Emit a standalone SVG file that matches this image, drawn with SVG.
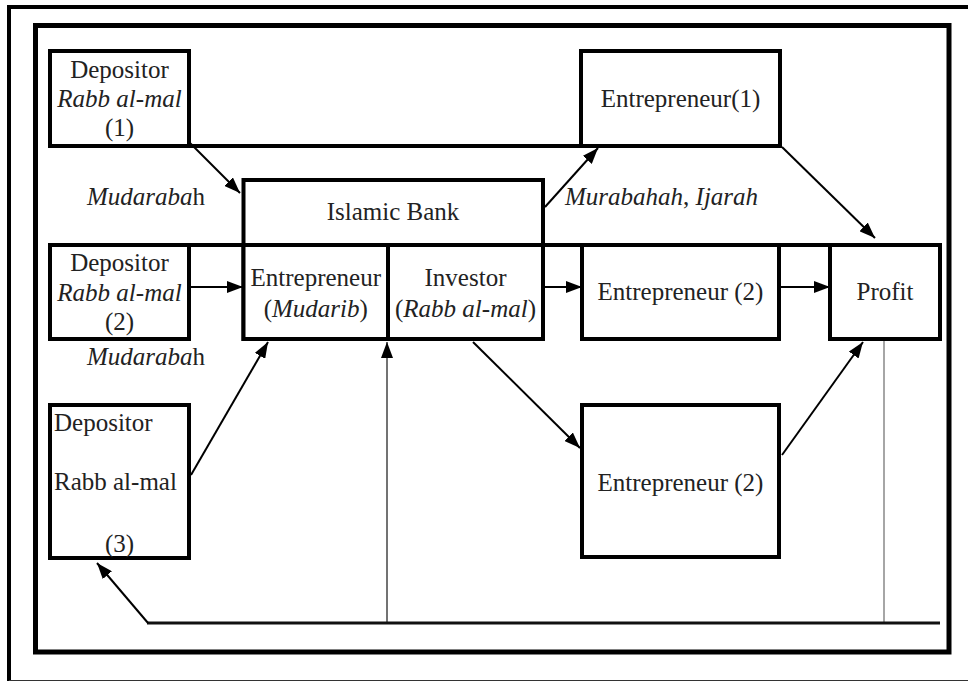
<svg xmlns="http://www.w3.org/2000/svg" width="968" height="681" viewBox="0 0 968 681">
<style>
.box{fill:#fff;stroke:#000;stroke-width:4}
.frame{fill:none;stroke:#000}
.con{fill:none;stroke:#000;stroke-width:2}
.thin{fill:none;stroke:#444;stroke-width:1.5}
.gray{fill:none;stroke:#888;stroke-width:1.5}
.heavy{fill:none;stroke:#000;stroke-width:4}
</style>
<defs>
<marker id="ah" viewBox="0 0 16 12" refX="16" refY="6" markerWidth="16" markerHeight="12" markerUnits="userSpaceOnUse" orient="auto">
<path d="M0,0 L16,6 L0,12 z" fill="#000"/>
</marker>
</defs>
<rect width="968" height="681" fill="#fff"/>
<g id="frames">
<path class="frame" d="M9,681 V7 H968" stroke-width="4"/>
<line x1="9" y1="680.5" x2="968" y2="680.5" stroke="#333" stroke-width="1"/>
<rect class="frame" x="35.5" y="25.5" width="913.5" height="626.5" stroke-width="5"/>
</g>
<g id="connectors">
<line class="heavy" x1="189" y1="146" x2="581" y2="146"/>
<line class="heavy" x1="189" y1="245" x2="243.5" y2="245"/>
<line class="heavy" x1="543" y1="245" x2="582" y2="245"/>
<line class="heavy" x1="779" y1="245" x2="830" y2="245"/>
<line class="con" x1="167" y1="120" x2="240" y2="193" marker-end="url(#ah)"/>
<line class="con" x1="545" y1="207" x2="598" y2="148" marker-end="url(#ah)"/>
<line class="con" x1="782" y1="147" x2="875" y2="238" marker-end="url(#ah)"/>
<line class="con" x1="191" y1="287" x2="243" y2="287" marker-end="url(#ah)"/>
<line class="con" x1="545" y1="287" x2="582" y2="287" marker-end="url(#ah)"/>
<line class="con" x1="781" y1="287" x2="830" y2="287" marker-end="url(#ah)"/>
<line class="con" x1="191" y1="475" x2="268" y2="342" marker-end="url(#ah)"/>
<line class="thin" x1="387" y1="623" x2="387" y2="342" marker-end="url(#ah)"/>
<line class="con" x1="473" y1="342" x2="580" y2="448" marker-end="url(#ah)"/>
<line class="con" x1="782" y1="455" x2="863" y2="342" marker-end="url(#ah)"/>
<line class="gray" x1="884" y1="341" x2="884" y2="623"/>
<line fill="none" stroke="#111" stroke-width="3" x1="147" y1="623" x2="940" y2="623"/>
<line class="con" x1="148" y1="623" x2="97" y2="563" marker-end="url(#ah)"/>
</g>
<g id="depositor1">
<rect class="box" x="50" y="51" width="139" height="95"/>
<text font-family="Liberation Serif" font-size="25" fill="#222" text-anchor="middle" x="119.5" y="78">Depositor</text>
<text font-family="Liberation Serif" font-size="25" fill="#222" text-anchor="middle" font-style="italic" x="119.5" y="107">Rabb al-mal</text>
<text font-family="Liberation Serif" font-size="25" fill="#222" text-anchor="middle" x="119.5" y="136">(1)</text>
</g>
<g id="entrepreneur1">
<rect class="box" x="581" y="51" width="199" height="95"/>
<text font-family="Liberation Serif" font-size="25" fill="#222" text-anchor="middle" x="680.5" y="107">Entrepreneur(1)</text>
</g>
<g id="islamic-bank">
<rect class="box" x="243.5" y="180" width="299.5" height="159"/>
<text font-family="Liberation Serif" font-size="25" fill="#222" text-anchor="middle" x="393" y="220">Islamic Bank</text>
</g>
<g id="bank-entrepreneur">
<rect class="box" x="243.5" y="245" width="144.5" height="94"/>
<text font-family="Liberation Serif" font-size="25" fill="#222" text-anchor="middle" x="315.75" y="286">Entrepreneur</text>
<text font-family="Liberation Serif" font-size="25" fill="#222" text-anchor="middle" x="315.75" y="317">(<tspan font-style="italic">Mudarib</tspan>)</text>
</g>
<g id="bank-investor">
<rect class="box" x="388" y="245" width="155" height="94"/>
<text font-family="Liberation Serif" font-size="25" fill="#222" text-anchor="middle" x="465.5" y="286">Investor</text>
<text font-family="Liberation Serif" font-size="25" fill="#222" text-anchor="middle" x="465.5" y="317">(<tspan font-style="italic">Rabb al-mal</tspan>)</text>
</g>
<g id="depositor2">
<rect class="box" x="50" y="245" width="139" height="94"/>
<text font-family="Liberation Serif" font-size="25" fill="#222" text-anchor="middle" x="119.5" y="271">Depositor</text>
<text font-family="Liberation Serif" font-size="25" fill="#222" text-anchor="middle" font-style="italic" x="119.5" y="301">Rabb al-mal</text>
<text font-family="Liberation Serif" font-size="25" fill="#222" text-anchor="middle" x="119.5" y="330">(2)</text>
</g>
<g id="entrepreneur2">
<rect class="box" x="582" y="245" width="197" height="94"/>
<text font-family="Liberation Serif" font-size="25" fill="#222" text-anchor="middle" x="680.5" y="300">Entrepreneur (2)</text>
</g>
<g id="profit">
<rect class="box" x="830" y="245" width="110" height="94"/>
<text font-family="Liberation Serif" font-size="25" fill="#222" text-anchor="middle" x="885" y="300">Profit</text>
</g>
<g id="depositor3">
<rect class="box" x="50" y="405" width="139" height="153"/>
<text font-family="Liberation Serif" font-size="25" fill="#222" x="54" y="431">Depositor</text>
<text font-family="Liberation Serif" font-size="25" fill="#222" x="54" y="490">Rabb al-mal</text>
<text font-family="Liberation Serif" font-size="25" fill="#222" text-anchor="middle" x="119.5" y="552">(3)</text>
</g>
<g id="entrepreneur2b">
<rect class="box" x="582" y="405" width="197" height="152"/>
<text font-family="Liberation Serif" font-size="25" fill="#222" text-anchor="middle" x="680.5" y="491">Entrepreneur (2)</text>
</g>
<g id="labels">
<text font-family="Liberation Serif" font-size="25" fill="#222" x="87" y="205"><tspan font-style="italic">Mudaraba</tspan>h</text>
<text font-family="Liberation Serif" font-size="25" fill="#222" x="87" y="365"><tspan font-style="italic">Mudaraba</tspan>h</text>
<text font-family="Liberation Serif" font-size="25" fill="#222" x="565" y="205"><tspan font-style="italic">Murabahah</tspan>, <tspan font-style="italic">Ijarah</tspan></text>
</g>
</svg>
